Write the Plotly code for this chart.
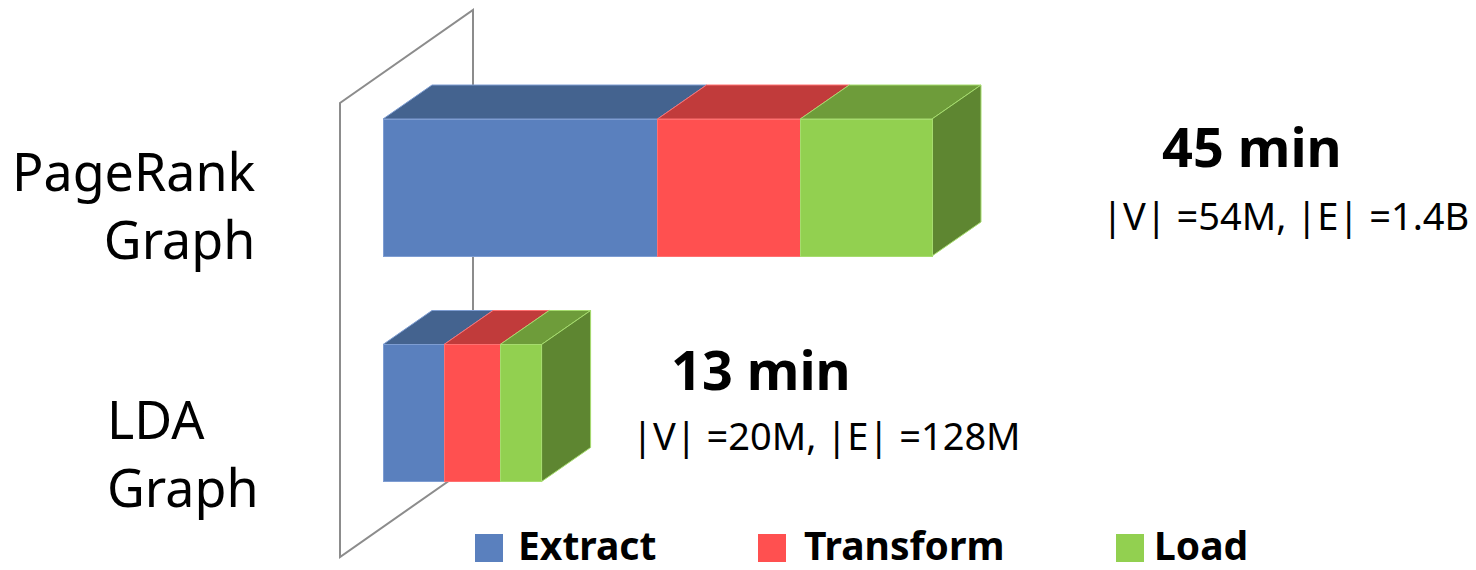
import plotly.graph_objects as go

# ---- data -------------------------------------------------------------
categories = ["LDA Graph", "PageRank Graph"]
category_text = ["LDA<br>Graph", "PageRank<br>Graph"]
series_names = ["Extract", "Transform", "Load"]
extract_min = [5.0, 22.5]
transform_min = [4.6, 11.7]
load_min = [3.4, 10.8]
total_labels = ["13 min", "45 min"]
size_labels = ["|V| =20M, |E| =128M", "|V| =54M, |E| =1.4B"]

series_values = [extract_min, transform_min, load_min]

# ---- canvas geometry --------------------------------------------------
W, H = 1476, 570
PX_PER_MIN = 12.2
ZERO_PX = 383          # horizontal pixel of 0 min
ROW_PX = 225.5         # pixels between category rows
BASE_ROW_PX = 413      # vertical pixel of the first row's centre

x_range = [-ZERO_PX / PX_PER_MIN, (W - ZERO_PX) / PX_PER_MIN]
y_range = [(BASE_ROW_PX - H) / ROW_PX, BASE_ROW_PX / ROW_PX]

BAR_WIDTH = 0.6075
HALF = BAR_WIDTH / 2
DEPTH_X = 49 / PX_PER_MIN     # receding depth of the 3-D bars
DEPTH_Y = 34 / ROW_PX

FONT = "Noto Sans"

front_colors = ["#5A80BE", "#FF5050", "#92D050"]
edge_colors = ["#7E9DD2", "#FF7070", "#A6DC6E"]
top_colors = ["#44638F", "#C13B3B", "#6E9C3A"]
side_color_last = "#5E8631"


def px_x(px):
    return px / W


def px_y(py):
    return 1 - py / H


y_pos = list(range(len(categories)))

fig = go.Figure()

# front faces of the stacked bars
for name, vals, fc, ec in zip(series_names, series_values, front_colors, edge_colors):
    fig.add_trace(go.Bar(
        y=y_pos, x=vals, name=name, orientation="h", width=BAR_WIDTH,
        marker=dict(color=fc, line=dict(color=ec, width=1)),
        showlegend=False, hovertemplate=name + ": %{x} min<extra></extra>",
    ))

shapes = []

# side wall of the 3-D plot area
WALL_FRONT_X = -43 / PX_PER_MIN
WALL_BOTTOM_Y = (BASE_ROW_PX - 557) / ROW_PX
WALL_TOP_Y = (BASE_ROW_PX - 103) / ROW_PX
WALL_DX = 133 / PX_PER_MIN
WALL_DY = 93 / ROW_PX
wall_path = (
    f"M {WALL_FRONT_X},{WALL_BOTTOM_Y} L {WALL_FRONT_X},{WALL_TOP_Y} "
    f"L {WALL_FRONT_X + WALL_DX},{WALL_TOP_Y + WALL_DY} "
    f"L {WALL_FRONT_X + WALL_DX},{WALL_BOTTOM_Y + WALL_DY} Z"
)
shapes.append(dict(type="path", path=wall_path, xref="x", yref="y", layer="below",
                   line=dict(color="#8C8C8C", width=2), fillcolor="rgba(0,0,0,0)"))

# top faces and the end cap, derived from the stacked values
for i, yc in enumerate(y_pos):
    start = 0.0
    n = len(series_values)
    for k in range(n):
        end = start + series_values[k][i]
        yt = yc + HALF
        top = (
            f"M {start},{yt} L {end},{yt} L {end + DEPTH_X},{yt + DEPTH_Y} "
            f"L {start + DEPTH_X},{yt + DEPTH_Y} Z"
        )
        shapes.append(dict(type="path", path=top, xref="x", yref="y", layer="below",
                           fillcolor=top_colors[k], line=dict(color=edge_colors[k], width=1)))
        if k == n - 1:
            yb = yc - HALF
            side = (
                f"M {end},{yb} L {end},{yt} L {end + DEPTH_X},{yt + DEPTH_Y} "
                f"L {end + DEPTH_X},{yb + DEPTH_Y} Z"
            )
            shapes.append(dict(type="path", path=side, xref="x", yref="y", layer="below",
                               fillcolor=side_color_last, line=dict(color=edge_colors[k], width=1)))
        start = end

annotations = []

# category labels
annotations.append(dict(text=category_text[1], x=px_x(258), y=px_y(204), xref="paper", yref="paper",
                        xanchor="right", yanchor="middle", align="right", showarrow=False,
                        font=dict(family=FONT, size=52, color="black")))
annotations.append(dict(text=category_text[0], x=px_x(105), y=px_y(452), xref="paper", yref="paper",
                        xanchor="left", yanchor="middle", align="left", showarrow=False,
                        font=dict(family=FONT, size=52, color="black")))

# totals and graph sizes
total_pos = [(761, 369), (1252, 146)]
size_pos = [(826, 435), (1285, 215)]
for i in range(len(categories)):
    annotations.append(dict(text=f"<b>{total_labels[i]}</b>", x=px_x(total_pos[i][0]), y=px_y(total_pos[i][1]),
                            xref="paper", yref="paper", xanchor="center", yanchor="middle", showarrow=False,
                            font=dict(family=FONT, size=54, color="black")))
    annotations.append(dict(text=size_labels[i], x=px_x(size_pos[i][0]), y=px_y(size_pos[i][1]),
                            xref="paper", yref="paper", xanchor="center", yanchor="middle", showarrow=False,
                            font=dict(family=FONT, size=38, color="black")))

# legend
legend_square_left = [475, 758, 1116]
legend_text_left = [517, 803, 1153]
SQ = 28
LEG_TOP = 534
for k, name in enumerate(series_names):
    shapes.append(dict(type="rect", xref="paper", yref="paper",
                       x0=px_x(legend_square_left[k]), x1=px_x(legend_square_left[k] + SQ),
                       y0=px_y(LEG_TOP + SQ), y1=px_y(LEG_TOP),
                       fillcolor=front_colors[k], line=dict(width=0)))
    annotations.append(dict(text=f"<b>{name}</b>", x=px_x(legend_text_left[k]), y=px_y(544),
                            xref="paper", yref="paper", xanchor="left", yanchor="middle", showarrow=False,
                            borderpad=0,
                            font=dict(family=FONT, size=39, color="black")))

fig.update_layout(
    width=W, height=H,
    margin=dict(l=0, r=0, t=0, b=0),
    barmode="stack",
    plot_bgcolor="white", paper_bgcolor="white",
    xaxis=dict(range=x_range, visible=False, fixedrange=True),
    yaxis=dict(range=y_range, visible=False, fixedrange=True),
    shapes=shapes,
    annotations=annotations,
    showlegend=False,
)

fig.write_html("out.html")
